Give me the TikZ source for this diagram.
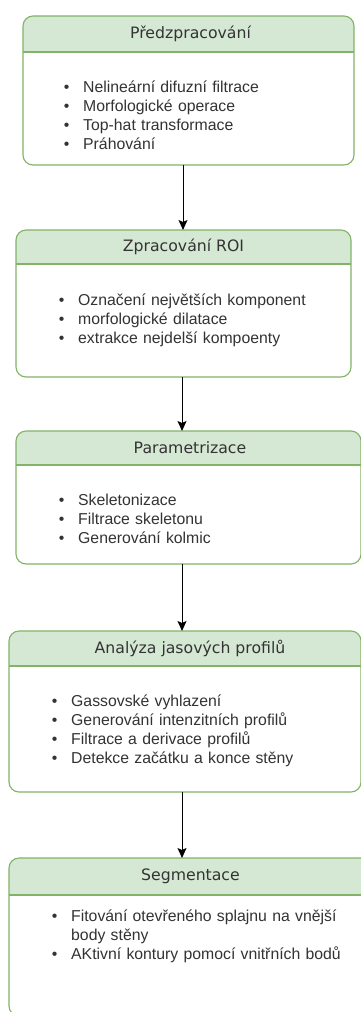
\documentclass[tikz,border=0pt]{standalone}
\usepackage{fontspec}
\setmainfont{Liberation Sans}
\newfontfamily\hdrfont{DejaVu Sans}
\usetikzlibrary{arrows.meta}
\definecolor{gborder}{HTML}{82B366}
\definecolor{gfill}{HTML}{D5E8D4}
\definecolor{txt}{HTML}{333333}
\newcommand\bitem[1]{\makebox[19.3pt][l]{\textbullet}#1}
\begin{document}
\begin{tikzpicture}[x=1pt,y=-1pt,
  boxbg/.style={fill=white, inner sep=0pt, outer sep=0pt, anchor=north west},
  boxline/.style={draw=gborder, line width=1.1pt, rounded corners=10pt},
  sepline/.style={draw=gborder, line width=1.1pt},
  hdrtext/.style={text=txt, font={\hdrfont\fontsize{15.7}{19}\selectfont}, inner sep=0pt},
  bodytext/.style={text=txt, font={\fontsize{15.8}{19}\selectfont}, inner sep=0pt, anchor=base west, text width=320pt, align=left},
  arr/.style={draw=black, line width=1pt, -{Stealth[length=10pt,width=9pt,inset=2pt]}}]
\useasboundingbox (0,0) rectangle (361,1012);
\clip (0,0) rectangle (361,1012);
\fill[white] (0,0) rectangle (361,1012);

% Box 1
\node[boxbg, minimum width=331pt, minimum height=149pt] (b1) at (23,16) {};
\begin{scope}
  \clip[rounded corners=10pt] (b1.north west) rectangle (b1.south east);
  \fill[gfill] (b1.north west) rectangle ([yshift=-36pt]b1.north east);
\end{scope}
\draw[boxline] (b1.north west) rectangle (b1.south east);
\draw[sepline] ([yshift=-36pt]b1.north west) -- ([yshift=-36pt]b1.north east);
\node[hdrtext] (h1) at (190.5,34) {Předzpracování};
\node[bodytext] (t1) at (63.7,92) {\bitem{Nelineární difuzní filtrace}\\\bitem{Morfologické operace}\\\bitem{Top-hat transformace}\\\bitem{Práhování}};

% Box 2
\node[boxbg, minimum width=335pt, minimum height=147pt] (b2) at (16,230) {};
\begin{scope}
  \clip[rounded corners=10pt] (b2.north west) rectangle (b2.south east);
  \fill[gfill] (b2.north west) rectangle ([yshift=-34pt]b2.north east);
\end{scope}
\draw[boxline] (b2.north west) rectangle (b2.south east);
\draw[sepline] ([yshift=-34pt]b2.north west) -- ([yshift=-34pt]b2.north east);
\node[hdrtext] (h2) at (183.5,247) {Zpracování ROI};
\node[bodytext] (t2) at (58.7,305) {\bitem{Označení největších komponent}\\\bitem{morfologické dilatace}\\\bitem{extrakce nejdelší kompoenty}};

% Box 3
\node[boxbg, minimum width=345pt, minimum height=133pt] (b3) at (16,431) {};
\begin{scope}
  \clip[rounded corners=10pt] (b3.north west) rectangle (b3.south east);
  \fill[gfill] (b3.north west) rectangle ([yshift=-34pt]b3.north east);
\end{scope}
\draw[boxline] (b3.north west) rectangle (b3.south east);
\draw[sepline] ([yshift=-34pt]b3.north west) -- ([yshift=-34pt]b3.north east);
\node[hdrtext] (h3) at (190,448) {Parametrizace};
\node[bodytext] (t3) at (58.7,505) {\bitem{Skeletonizace}\\\bitem{Filtrace skeletonu}\\\bitem{Generování kolmic}};

% Box 4
\node[boxbg, minimum width=352pt, minimum height=161pt] (b4) at (9,631) {};
\begin{scope}
  \clip[rounded corners=10pt] (b4.north west) rectangle (b4.south east);
  \fill[gfill] (b4.north west) rectangle ([yshift=-35pt]b4.north east);
\end{scope}
\draw[boxline] (b4.north west) rectangle (b4.south east);
\draw[sepline] ([yshift=-35pt]b4.north west) -- ([yshift=-35pt]b4.north east);
\node[hdrtext] (h4) at (190,648.5) {Analýza jasových profilů};
\node[bodytext] (t4) at (51.7,706) {\bitem{Gassovské vyhlazení}\\\bitem{Generování intenzitních profilů}\\\bitem{Filtrace a derivace profilů}\\\bitem{Detekce začátku a konce stěny}};

% Box 5
\node[boxbg, minimum width=366pt, minimum height=158pt] (b5) at (9,858) {};
\begin{scope}
  \clip[rounded corners=10pt] (b5.north west) rectangle (b5.south east);
  \fill[gfill] (b5.north west) rectangle ([yshift=-37pt]b5.north east);
\end{scope}
\draw[boxline] (b5.north west) rectangle (b5.south east);
\draw[sepline] ([yshift=-37pt]b5.north west) -- ([yshift=-37pt]b5.north east);
\node[hdrtext] (h5) at (190.5,876.5) {Segmentace};
\node[bodytext] (t5) at (51.7,921) {\bitem{Fitování otevřeného splajnu na vnější}\\\hspace*{19.3pt}body stěny\\\bitem{AKtivní kontury pomocí vnitřních bodů}};

% Connectors
\draw[arr] (b1.south -| 183,0) -- (b2.north -| 183,0);
\draw[arr] (b2.south -| 182,0) -- (b3.north -| 182,0);
\draw[arr] (b3.south -| 182,0) -- (b4.north -| 182,0);
\draw[arr] (b4.south -| 182,0) -- (b5.north -| 182,0);
\end{tikzpicture}
\end{document}
